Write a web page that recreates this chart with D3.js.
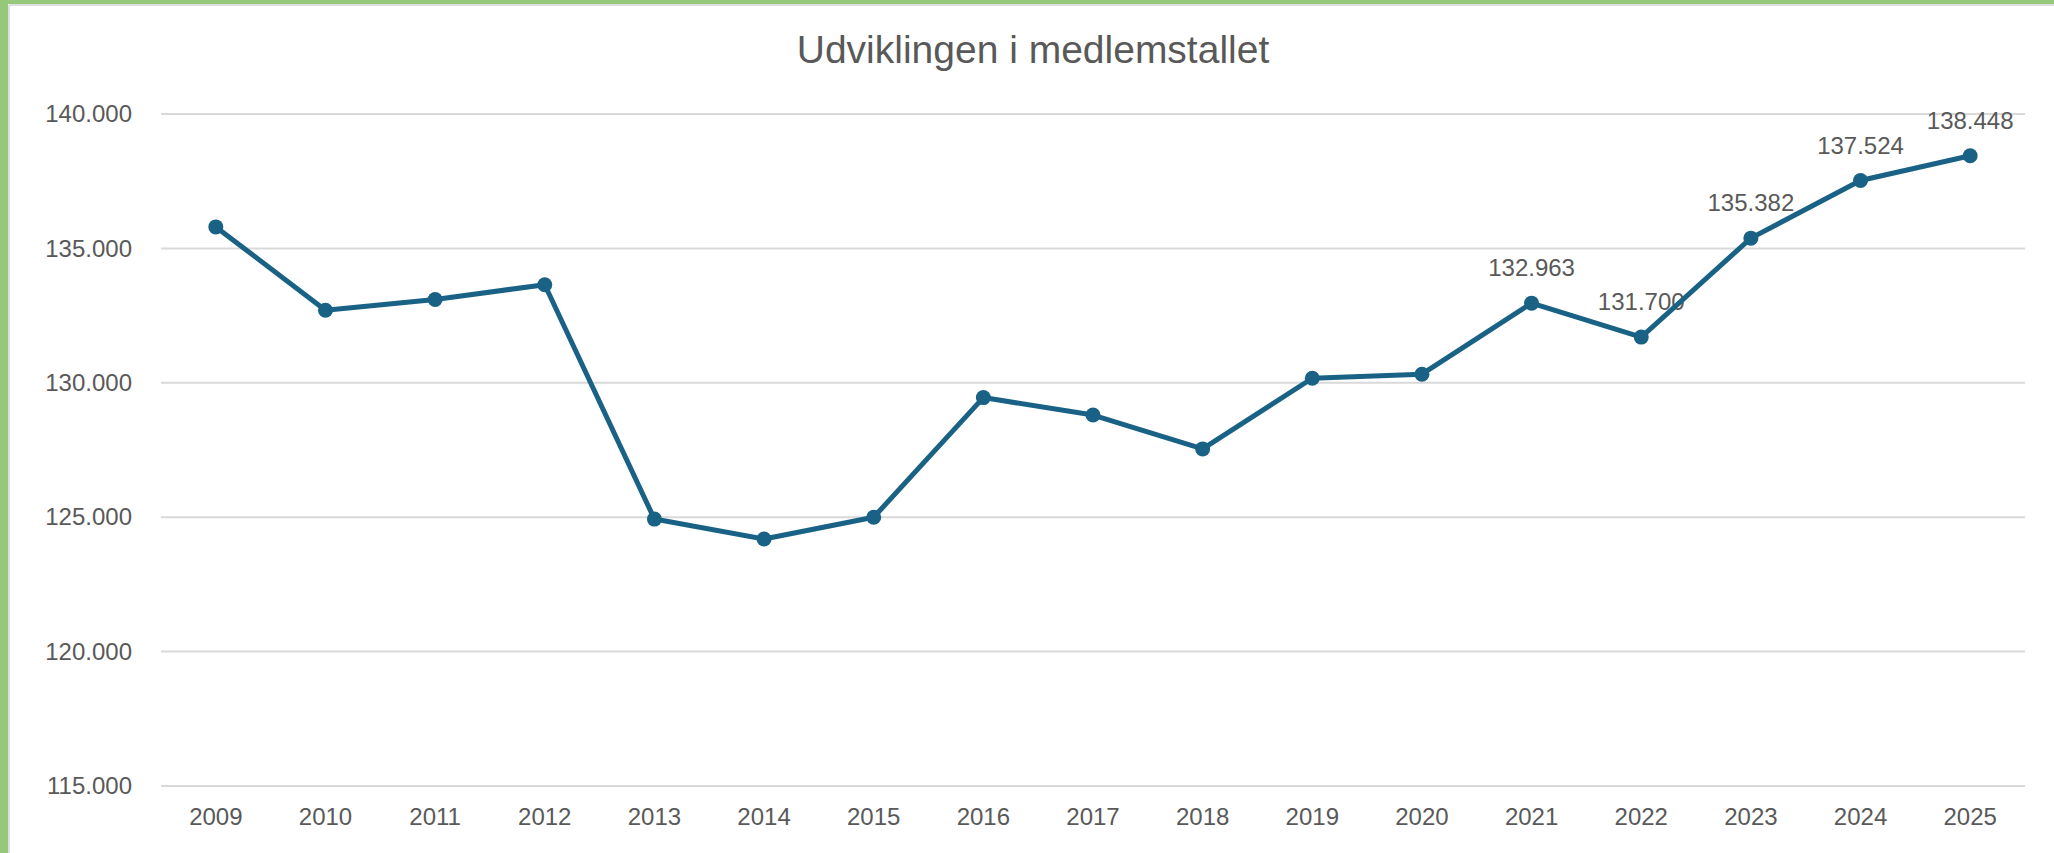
<!DOCTYPE html>
<html>
<head>
<meta charset="utf-8">
<script src="https://cdn.jsdelivr.net/npm/d3@7"></script>
<style>
  html, body { margin: 0; padding: 0; background: #ffffff; }
  svg { display: block; }
  text { font-family: "Liberation Sans", Arial, sans-serif; }
</style>
</head>
<body>
<svg id="chart" width="2054" height="853"></svg>
<script>
const title = "Udviklingen i medlemstallet";
const years = ["2009","2010","2011","2012","2013","2014","2015","2016","2017","2018","2019","2020","2021","2022","2023","2024","2025"];
const members = [135800, 132700, 133100, 133650, 124930, 124190, 125000, 129450, 128800, 127540, 130170, 130320, 132963, 131700, 135382, 137524, 138448];
const labelledYears = ["2021","2022","2023","2024","2025"];
const yTicks = [115000, 120000, 125000, 130000, 135000, 140000];

const W = 2054, H = 853;
const margin = { left: 161, right: 29, top: 114, bottom: 67 };
const svg = d3.select("#chart");

// frame: green accents on top and left, thin grey inner lines
svg.append("rect").attr("x", 0).attr("y", 0).attr("width", W).attr("height", H).attr("fill", "#ffffff");
svg.append("line").attr("x1", 9).attr("x2", W).attr("y1", 5).attr("y2", 5)
  .attr("stroke", "#dedede").attr("stroke-width", 2);
svg.append("line").attr("x1", 9).attr("x2", 9).attr("y1", 5).attr("y2", H)
  .attr("stroke", "#dedede").attr("stroke-width", 2);
svg.append("rect").attr("x", 0).attr("y", 0).attr("width", W).attr("height", 4).attr("fill", "#94c97c");
svg.append("rect").attr("x", 0).attr("y", 0).attr("width", 8).attr("height", H).attr("fill", "#94c97c");

const x = d3.scaleBand().domain(years).range([margin.left, W - margin.right]).paddingInner(0).paddingOuter(0);
const y = d3.scaleLinear().domain([115000, 140000]).range([H - margin.bottom, margin.top]);

const fmt = v => d3.format(",")(v).replace(/,/g, ".");

// gridlines
const grid = svg.append("g").attr("class", "grid");
grid.selectAll("line").data(yTicks).join("line")
  .attr("x1", margin.left).attr("x2", W - margin.right)
  .attr("y1", d => y(d)).attr("y2", d => y(d))
  .attr("stroke", "#d9d9d9").attr("stroke-width", 2);

// y axis labels
const yAxis = d3.axisLeft(y).tickValues(yTicks).tickFormat(fmt).tickSize(0).tickPadding(29);
const gy = svg.append("g").attr("transform", `translate(${margin.left},0)`).call(yAxis);
gy.select(".domain").remove();
gy.selectAll("text").attr("font-size", 24).attr("fill", "#595959")
  .attr("font-family", "'Liberation Sans', Arial, sans-serif");

// x axis labels
const xAxis = d3.axisBottom(x).tickSize(0).tickPadding(22);
const gx = svg.append("g").attr("transform", `translate(0,${H - margin.bottom})`).call(xAxis);
gx.select(".domain").remove();
gx.selectAll("text").attr("font-size", 24).attr("fill", "#595959")
  .attr("font-family", "'Liberation Sans', Arial, sans-serif");

// title
svg.append("text").attr("x", 1033).attr("y", 63)
  .attr("text-anchor", "middle").attr("font-size", 39).attr("fill", "#595959")
  .text(title);

const data = years.map((yr, i) => ({ year: yr, value: members[i] }));
const cx = d => x(d.year) + x.bandwidth() / 2;

// data labels
svg.append("g").selectAll("text").data(data.filter(d => labelledYears.includes(d.year))).join("text")
  .attr("x", cx).attr("y", d => y(d.value) - 27)
  .attr("text-anchor", "middle").attr("font-size", 24).attr("fill", "#595959")
  .text(d => fmt(d.value));

// line
const color = "#1a6285";
svg.append("path").datum(data)
  .attr("fill", "none").attr("stroke", color).attr("stroke-width", 5)
  .attr("stroke-linejoin", "round")
  .attr("d", d3.line().x(cx).y(d => y(d.value)));

svg.append("g").selectAll("circle").data(data).join("circle")
  .attr("cx", cx).attr("cy", d => y(d.value)).attr("r", 7.5).attr("fill", color);
</script>
</body>
</html>
